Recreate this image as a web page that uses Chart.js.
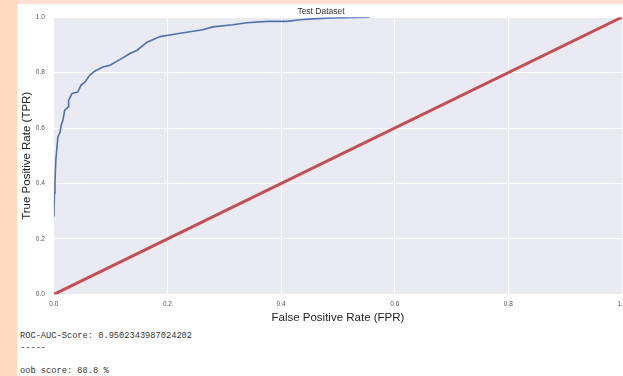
<!DOCTYPE html>
<html>
<head>
<meta charset="utf-8">
<script src="https://cdn.jsdelivr.net/npm/chart.js@4.4.1/dist/chart.umd.min.js"></script>
<style>
    body { margin: 0; width: 623px; height: 376px; overflow: hidden; background: #fddfd4; position: relative; }
    #leftStrip { position: absolute; left: 0; top: 0; width: 17px; height: 376px; background: #ffdac0; }
    #panel { position: absolute; left: 17px; top: 4px; width: 606px; height: 372px; background: #ffffff; overflow: hidden; }
    #chartBox { position: absolute; left: 0; top: 0; width: 620px; height: 324px; }
    #output { position: absolute; left: 3px; top: 327px; margin: 0; font-family: "Liberation Mono", "DejaVu Sans Mono", monospace; font-size: 8.7px; line-height: 11.5px; color: #333; }
</style>
</head>
<body>
<div id="leftStrip"></div>
<div id="panel">
    <div id="chartBox"><canvas id="rocChart" width="620" height="324"></canvas></div>
    <pre id="output">ROC-AUC-Score: 0.9502343987024202
-----

oob score: 88.8 %</pre>
</div>
<script>
// ROC 곡선 값
const rocFpr = [0, 0.001, 0.002, 0.0035, 0.005, 0.007, 0.011, 0.013, 0.016, 0.019, 0.025, 0.026, 0.032, 0.042, 0.048, 0.055, 0.063, 0.072, 0.086, 0.099, 0.116, 0.134, 0.146, 0.164, 0.187, 0.217, 0.234, 0.262, 0.28, 0.315, 0.34, 0.375, 0.41, 0.433, 0.463, 0.486, 0.556];
const rocTpr = [0.28, 0.365, 0.405, 0.484, 0.52, 0.567, 0.586, 0.61, 0.628, 0.664, 0.676, 0.70, 0.725, 0.73, 0.755, 0.766, 0.79, 0.805, 0.82, 0.827, 0.847, 0.869, 0.88, 0.91, 0.93, 0.94, 0.946, 0.955, 0.965, 0.973, 0.98, 0.985, 0.985, 0.991, 0.995, 0.997, 1.0];

// 대각선 (랜덤 분류기)
const diagFpr = [0, 1];
const diagTpr = [0, 1];

const tickValues = [0, 0.2, 0.4, 0.6, 0.8, 1.0];
const tickLabels = ['0.0', '0.2', '0.4', '0.6', '0.8', '1.0'];

function toPoints(xs, ys) {
    return xs.map((x, i) => ({ x: x, y: ys[i] }));
}

// 플롯 배경 (seaborn darkgrid 느낌)
const plotBackground = {
    id: 'plotBackground',
    beforeDraw(chart) {
        const { ctx, chartArea } = chart;
        ctx.save();
        ctx.fillStyle = '#eaeaf2';
        ctx.fillRect(chartArea.left, chartArea.top, chartArea.right - chartArea.left, chartArea.bottom - chartArea.top);
        ctx.restore();
    }
};

function tickLabel(value) {
    const i = tickValues.findIndex(v => Math.abs(v - value) < 1e-9);
    return i >= 0 ? tickLabels[i] : '';
}

const axisFont = { family: 'Liberation Sans, Arial, sans-serif', size: 11.5 };
const tickFont = { family: 'Liberation Sans, Arial, sans-serif', size: 6.5 };

new Chart(document.getElementById('rocChart'), {
    type: 'scatter',
    data: {
        datasets: [
            {
                label: 'ROC',
                data: toPoints(rocFpr, rocTpr),
                showLine: true,
                borderColor: '#4c72b0',
                borderWidth: 1.6,
                pointRadius: 0,
                fill: false
            },
            {
                label: 'Random',
                data: toPoints(diagFpr, diagTpr),
                showLine: true,
                borderColor: '#c44e52',
                borderWidth: 3,
                pointRadius: 0,
                fill: false
            }
        ]
    },
    options: {
        responsive: false,
        animation: false,
        layout: { padding: { left: 3, right: 15, top: 0, bottom: 3 } },
        plugins: {
            legend: { display: false },
            tooltip: { enabled: false },
            title: {
                display: true,
                text: 'Test Dataset',
                color: '#333',
                font: { family: 'Liberation Sans, Arial, sans-serif', size: 8.5, weight: 'normal' },
                padding: { top: 3, bottom: 0 }
            }
        },
        scales: {
            x: {
                type: 'linear',
                min: 0,
                max: 1,
                afterBuildTicks(axis) { axis.ticks = tickValues.map(v => ({ value: v })); },
                ticks: { callback: tickLabel, color: '#555', font: tickFont, padding: 6, maxRotation: 0 },
                grid: { color: '#ffffff', lineWidth: 1, drawTicks: false },
                border: { display: false },
                title: { display: true, text: 'False Positive Rate (FPR)', color: '#222', font: axisFont, padding: { top: -3, bottom: 0 } }
            },
            y: {
                type: 'linear',
                min: 0,
                max: 1,
                afterBuildTicks(axis) { axis.ticks = tickValues.map(v => ({ value: v })); },
                ticks: { callback: tickLabel, color: '#555', font: tickFont, padding: 9 },
                grid: { color: '#ffffff', lineWidth: 1, drawTicks: false },
                border: { display: false },
                title: { display: true, text: 'True Positive Rate (TPR)', color: '#222', font: axisFont, padding: { top: 0, bottom: -7 } }
            }
        }
    },
    plugins: [plotBackground]
});
</script>
</body>
</html>
